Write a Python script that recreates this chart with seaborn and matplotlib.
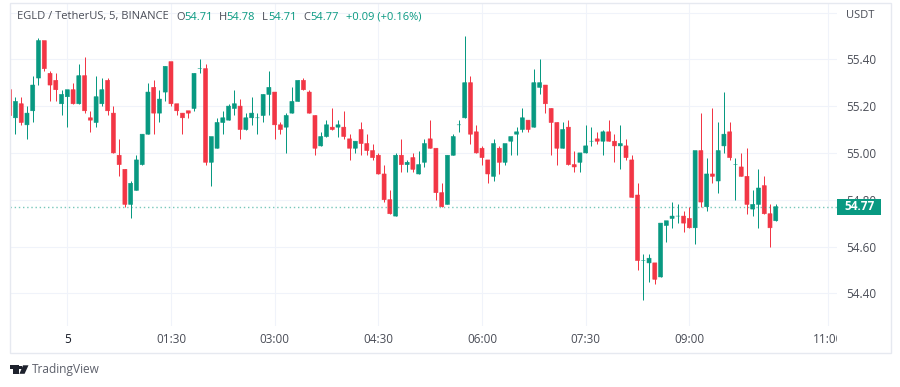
import matplotlib
matplotlib.use("Agg")
import matplotlib.pyplot as plt
from matplotlib.patches import Rectangle, Polygon, Circle
import numpy as np
import pandas as pd
import seaborn as sns

# 5 minute bars, minutes counted from 00:00 of the 5th
bar_minutes = list(range(-50, 620, 5))

opens = [55.27, 55.15, 55.21, 55.12, 55.18, 55.32, 55.48, 55.34, 55.31, 55.21,
         55.24, 55.27, 55.21, 55.33, 55.15, 55.13, 55.21, 55.31, 55.17, 54.99,
         54.93, 54.78, 54.84, 54.95, 55.08, 55.28, 55.17, 55.26, 55.39, 55.21,
         55.17, 55.18, 55.19, 55.36, 55.36, 54.96, 55.02, 55.13, 55.14, 55.19,
         55.20, 55.10, 55.15, 55.15, 55.16, 55.25, 55.26, 55.12, 55.11, 55.17,
         55.22, 55.31, 55.26, 55.16, 55.03, 55.07, 55.11, 55.11, 55.11, 55.06,
         55.02, 55.10, 55.04, 55.01, 54.99, 54.91, 54.80, 54.73, 54.99, 54.95,
         54.98, 54.91, 54.96, 55.06, 55.02, 54.83, 54.78, 54.99, 55.12, 55.15,
         55.30, 55.09, 55.02, 54.97, 54.90, 55.02, 54.96, 55.05, 55.08, 55.10,
         55.14, 55.11, 55.28, 55.29, 55.19, 55.13, 55.02, 55.11, 54.95, 54.96,
         55.00, 55.05, 55.06, 55.05, 55.09, 55.05, 55.03, 55.03, 54.97, 54.82,
         54.54, 54.53, 54.53, 54.47, 54.69, 54.72, 54.73, 54.73, 54.72, 54.68,
         55.01, 54.77, 54.91, 54.88, 55.03, 55.09, 54.95, 54.94, 54.90, 54.76,
         54.78, 54.86, 54.74, 54.71]
highs = [55.27, 55.24, 55.24, 55.20, 55.33, 55.49, 55.48, 55.35, 55.34, 55.27,
         55.27, 55.30, 55.38, 55.41, 55.18, 55.33, 55.32, 55.32, 55.20, 55.06,
         54.93, 54.88, 54.99, 55.08, 55.30, 55.31, 55.27, 55.37, 55.39, 55.21,
         55.17, 55.18, 55.34, 55.40, 55.38, 55.07, 55.15, 55.18, 55.21, 55.27,
         55.23, 55.17, 55.24, 55.17, 55.25, 55.35, 55.26, 55.13, 55.17, 55.28,
         55.31, 55.32, 55.27, 55.16, 55.09, 55.14, 55.19, 55.14, 55.18, 55.08,
         55.05, 55.13, 55.08, 55.04, 55.00, 54.95, 54.84, 55.00, 55.06, 54.97,
         55.00, 55.01, 55.06, 55.14, 55.02, 54.87, 54.99, 55.08, 55.14, 55.50,
         55.33, 55.12, 55.03, 54.97, 55.06, 55.03, 55.04, 55.07, 55.11, 55.19,
         55.14, 55.36, 55.40, 55.29, 55.19, 55.13, 55.13, 55.14, 55.01, 55.00,
         55.12, 55.11, 55.09, 55.10, 55.14, 55.08, 55.12, 55.06, 54.99, 54.87,
         54.57, 54.57, 54.53, 54.70, 54.71, 54.79, 54.78, 54.75, 54.77, 55.01,
         55.17, 54.98, 55.19, 55.13, 55.26, 55.13, 54.98, 55.00, 55.02, 54.84,
         54.93, 54.90, 54.78, 54.78]
lows = [55.15, 55.08, 55.12, 55.06, 55.13, 55.29, 55.35, 55.22, 55.22, 55.16,
        55.11, 55.21, 55.21, 55.17, 55.09, 55.11, 55.20, 55.16, 55.00, 54.90,
        54.77, 54.72, 54.84, 54.95, 55.08, 55.08, 55.13, 55.22, 55.20, 55.16,
        55.08, 55.15, 55.18, 55.34, 54.95, 54.86, 55.02, 55.08, 55.14, 55.16,
        55.06, 55.10, 55.12, 55.08, 55.13, 55.16, 55.06, 55.08, 55.00, 55.17,
        55.22, 55.27, 55.17, 54.99, 55.03, 55.07, 55.10, 55.07, 55.06, 54.97,
        55.00, 54.99, 54.99, 54.97, 54.91, 54.79, 54.74, 54.73, 54.92, 54.92,
        54.92, 54.91, 54.94, 55.02, 54.80, 54.77, 54.78, 54.99, 55.09, 55.15,
        55.04, 55.00, 54.95, 54.87, 54.88, 54.91, 54.95, 54.99, 54.99, 55.09,
        55.09, 55.11, 55.25, 55.17, 54.99, 54.95, 55.02, 54.95, 54.92, 54.92,
        55.00, 55.03, 55.04, 54.99, 55.05, 54.96, 54.93, 54.97, 54.81, 54.50,
        54.37, 54.45, 54.44, 54.47, 54.62, 54.68, 54.70, 54.66, 54.68, 54.61,
        54.77, 54.75, 54.87, 54.83, 55.00, 54.97, 54.80, 54.90, 54.74, 54.73,
        54.68, 54.74, 54.60, 54.71]
closes = [55.16, 55.22, 55.13, 55.17, 55.29, 55.48, 55.36, 55.29, 55.27, 55.25,
          55.27, 55.21, 55.33, 55.18, 55.14, 55.24, 55.27, 55.18, 55.00, 54.95,
          54.78, 54.87, 54.97, 55.08, 55.26, 55.17, 55.23, 55.37, 55.21, 55.18,
          55.15, 55.17, 55.34, 55.36, 54.96, 55.07, 55.13, 55.15, 55.20, 55.21,
          55.10, 55.15, 55.17, 55.15, 55.25, 55.28, 55.12, 55.10, 55.16, 55.22,
          55.31, 55.27, 55.17, 55.02, 55.07, 55.12, 55.10, 55.12, 55.07, 55.02,
          55.05, 55.04, 55.01, 54.98, 54.91, 54.80, 54.74, 54.99, 54.95, 54.96,
          54.93, 54.95, 55.04, 55.02, 54.83, 54.77, 54.99, 55.07, 55.12, 55.30,
          55.08, 55.00, 54.98, 54.91, 55.04, 54.96, 55.04, 55.07, 55.09, 55.15,
          55.10, 55.30, 55.30, 55.21, 55.13, 55.02, 55.10, 54.95, 54.94, 55.00,
          55.03, 55.05, 55.05, 55.09, 55.05, 55.03, 55.04, 54.98, 54.81, 54.54,
          54.54, 54.55, 54.46, 54.70, 54.71, 54.73, 54.73, 54.70, 54.68, 55.01,
          54.79, 54.91, 54.90, 55.01, 55.08, 54.98, 54.95, 54.90, 54.78, 54.78,
          54.85, 54.74, 54.68, 54.77]

price_ticks = [54.40, 54.60, 54.80, 55.00, 55.20, 55.40, 55.60]
price_labels = ["54.40", "54.60", "54.80", "55.00", "55.20", "55.40", ""]
time_ticks = [0, 90, 180, 270, 360, 450, 540, 660]
time_labels = ["5", "01:30", "03:00", "04:30", "06:00", "07:30", "09:00", "11:00"]
last_price = 54.77
header_label = "EGLD / TetherUS, 5, BINANCE"
header_values = [("O", "54.71"), ("H", "54.78"), ("L", "54.71"), ("C", "54.77")]
header_change = "+0.09 (+0.16%)"

GREEN = "#089981"
RED = "#F23645"
GRID = "#f0f3fa"
TEXT = "#4a4d57"
W, H = 900, 387

sns.set_theme(style="whitegrid", rc={"grid.color": GRID, "grid.linewidth": 0.8})
plt.rcParams["font.family"] = ["Open Sans", "DejaVu Sans"]


def fx(x):
    return x / W


def fy(y):
    return 1 - y / H


bars = pd.DataFrame({"minute": bar_minutes, "open": opens, "high": highs, "low": lows, "close": closes})
bars["side"] = np.where(bars["close"] >= bars["open"], "up", "down")
bars["bottom"] = bars[["open", "close"]].min(axis=1)
bars["body"] = (bars["close"] - bars["open"]).abs()

wicks = bars.melt(id_vars=["minute", "side"], value_vars=["low", "high"], value_name="price")

fig = plt.figure(figsize=(W / 100, H / 100), dpi=100, facecolor="white")
ax = fig.add_axes([fx(10), fy(326), fx(826.7), 323 / H])

sns.lineplot(data=wicks, x="minute", y="price", units="minute", estimator=None, hue="side",
             palette={"up": GREEN, "down": RED}, linewidth=0.72, legend=False, ax=ax,
             solid_capstyle="butt")

for side, colour in [("up", GREEN), ("down", RED)]:
    part = bars[bars["side"] == side]
    sns.barplot(x=part["minute"].values, y=part["body"].values, bottom=part["bottom"].values,
                native_scale=True, color=colour, saturation=1, width=0.7, errorbar=None,
                edgecolor=colour, linewidth=0.4, ax=ax)

for bar in ax.patches:
    bar.set_snap(False)

ax.axhline(last_price, color=GREEN, alpha=0.55, linewidth=1, linestyle=(0, (1, 2)), zorder=3)

ax.set_xlim(-49.74, 667.9)
ax.set_ylim(54.2603, 55.6406)
ax.set_xticks(time_ticks)
ax.set_xticklabels([])
ax.set_yticks(price_ticks)
ax.set_yticklabels(price_labels, color=TEXT, fontsize=8.5)
ax.yaxis.tick_right()
ax.tick_params(axis="both", length=0)
ax.tick_params(axis="y", pad=7)
ax.set_xlabel("")
ax.set_ylabel("")
for spine in ax.spines.values():
    spine.set_visible(False)

# strip under the pane, it cuts off the last time label like the original does
ax_time = fig.add_axes([fx(10), fy(353), fx(826.7), 27 / H])
ax_time.set_xlim(ax.get_xlim())
ax_time.set_ylim(0, 1)
ax_time.axis("off")
for t, label in zip(time_ticks, time_labels):
    ax_time.text(t, 0.5, label, ha="center", va="center", fontsize=8.5, clip_on=True,
                 color="#131722" if label == "5" else TEXT)

# outer frame
fig.add_artist(Rectangle((fx(9.5), fy(353)), fx(881.5), 350 / H, transform=fig.transFigure,
                         fill=False, edgecolor="#e6e9f0", linewidth=1))

# last price badge
fig.add_artist(Rectangle((fx(837), fy(215)), fx(44), 16 / H, transform=fig.transFigure,
                         facecolor=GREEN, edgecolor="none", zorder=6))
fig.text(fx(860), fy(207), f"{last_price:.2f}", color="white", fontsize=8.5, fontweight="bold",
         ha="center", va="center", zorder=7)
fig.text(fx(846), fy(16), "USDT", color=TEXT, fontsize=8, ha="left", va="center")

# header line
fig.text(fx(17), fy(17), header_label, color=TEXT, fontsize=8, ha="left", va="center")
for (letter, value), lx, vx in zip(header_values, [176.5, 219, 262.3, 303.3], [184, 226.7, 268.3, 310.7]):
    fig.text(fx(lx), fy(17), letter, color=TEXT, fontsize=8, ha="left", va="center")
    fig.text(fx(vx), fy(17), value, color=GREEN, fontsize=8, ha="left", va="center")
fig.text(fx(345.5), fy(17), header_change, color=GREEN, fontsize=8, ha="left", va="center")

# TradingView mark
logo = "#1e222d"
fig.add_artist(Polygon([(fx(9.5), fy(365.3)), (fx(18.5), fy(365.3)), (fx(18.5), fy(373.8)), (fx(13.2), fy(373.8)),
                        (fx(13.2), fy(369.3)), (fx(9.5), fy(369.3))], transform=fig.transFigure,
                       facecolor=logo, edgecolor="none"))
fig.add_artist(Polygon([(fx(23), fy(365.3)), (fx(28.5), fy(365.3)), (fx(24.6), fy(373.8)), (fx(19.4), fy(373.8))],
                       transform=fig.transFigure, facecolor=logo, edgecolor="none"))
fig.add_artist(Rectangle((fx(19.2), fy(369)), fx(3), 3.5 / H, transform=fig.transFigure,
                         facecolor=logo, edgecolor="none"))
fig.text(fx(32), fy(370), "TradingView", color="#5d606b", fontsize=8.6, ha="left", va="center")

fig.savefig("out.png", dpi=100)
